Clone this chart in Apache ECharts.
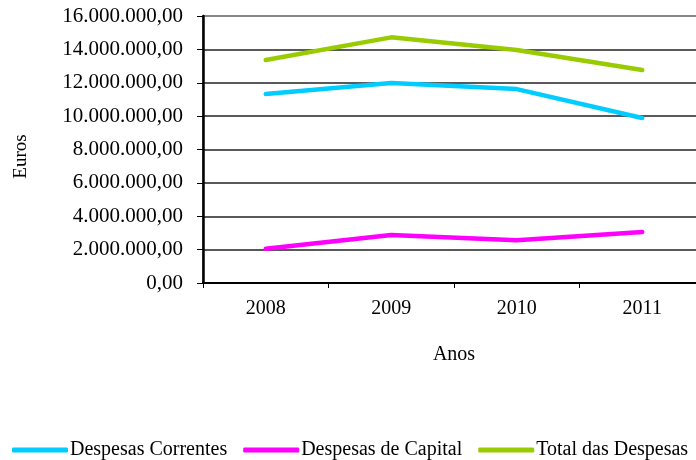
<!DOCTYPE html>
<html>
<head>
<meta charset="utf-8">
<script src="https://cdn.jsdelivr.net/npm/echarts@6/dist/echarts.min.js"></script>
<style>
  html, body { margin: 0; padding: 0; background: #fff; }
  #chart { width: 696px; height: 460px; }
</style>
</head>
<body>
<div id="chart"></div>
<script>
// anos e valores (euros)
const anos = ['2008', '2009', '2010', '2011'];
const despesasCorrentes = [11320000, 11980000, 11620000, 9890000];
const despesasCapital = [2050000, 2880000, 2560000, 3060000];
const totalDespesas = [13360000, 14720000, 13960000, 12760000];

const font = 'Liberation Serif';

// 16000000 -> 16.000.000,00
function formatEuros(v) {
  const s = Math.round(v).toString().replace(/\B(?=(\d{3})+(?!\d))/g, '.');
  return s + ',00';
}

const chart = echarts.init(document.getElementById('chart'));

const lineSeries = (name, data, color) => ({
  name: name,
  type: 'line',
  data: data,
  symbol: 'none',
  lineStyle: { color: color, width: 4.5, cap: 'round', join: 'round' },
  itemStyle: { color: color },
  animation: false,
});

chart.setOption({
  animation: false,
  textStyle: { fontFamily: font, color: '#000' },
  grid: {
    left: 203,
    top: 16,
    width: 502,
    height: 267,
    containLabel: false,
    outerBoundsMode: 'none',
    show: true,
    borderColor: '#888',
    borderWidth: 2,
  },
  legend: {
    top: 435,
    left: 7,
    itemWidth: 56,
    itemHeight: 5,
    itemGap: 16,
    icon: 'roundRect',
    textStyle: { fontFamily: font, fontSize: 20, color: '#000', padding: [0, 0, 0, -3] },
    data: ['Despesas Correntes', 'Despesas de Capital', 'Total das Despesas'],
  },
  xAxis: {
    type: 'category',
    data: anos,
    boundaryGap: true,
    name: 'Anos',
    nameLocation: 'middle',
    nameGap: 62,
    nameTextStyle: { fontFamily: font, fontSize: 20, color: '#000' },
    axisLine: { lineStyle: { color: '#000', width: 2 } },
    axisTick: { show: true, length: 5, inside: false, lineStyle: { color: '#000' } },
    axisLabel: { fontFamily: font, fontSize: 20, color: '#000', margin: 16 },
    splitLine: { show: false },
  },
  yAxis: {
    type: 'value',
    min: 0,
    max: 16000000,
    interval: 2000000,
    name: 'Euros',
    nameLocation: 'middle',
    nameGap: 172,
    nameRotate: 90,
    nameTextStyle: { fontFamily: font, fontSize: 19, color: '#000', padding: [0, 14, 0, 0] },
    axisLine: { show: true, lineStyle: { color: '#000', width: 2.5 } },
    axisTick: { show: true, length: 6, lineStyle: { color: '#000' } },
    axisLabel: { fontFamily: font, fontSize: 21, color: '#000', margin: 20, formatter: formatEuros },
    splitLine: {
      show: true,
      lineStyle: {
        color: ['#222', '#222', '#222', '#222', '#222', '#222', '#222', '#222', '#888'],
        width: 1.5,
      },
    },
  },
  series: [
    lineSeries('Despesas Correntes', despesasCorrentes, '#00CCFF'),
    lineSeries('Despesas de Capital', despesasCapital, '#FF00FF'),
    lineSeries('Total das Despesas', totalDespesas, '#99CC00'),
  ],
});
</script>
</body>
</html>
